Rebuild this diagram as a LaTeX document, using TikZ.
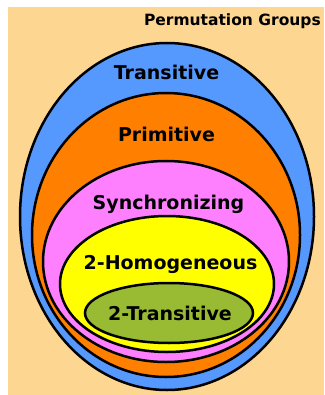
\documentclass[tikz,border=0pt]{standalone}
\usepackage{fontspec}
\setmainfont{DejaVu Sans}
\usetikzlibrary{shapes.geometric,positioning}
\definecolor{groupbg}{RGB}{253,214,146}
\definecolor{transblue}{RGB}{85,153,255}
\definecolor{primorange}{RGB}{255,128,0}
\definecolor{syncpink}{RGB}{255,128,255}
\definecolor{homyellow}{RGB}{255,255,0}
\definecolor{twogreen}{RGB}{153,187,51}

\begin{document}
\begin{tikzpicture}[x=1pt,y=-1pt,line width=2.5pt,
    set node/.style={ellipse,draw,inner sep=0pt},
    set label/.style={anchor=base,inner sep=0pt,font=\bfseries\fontsize{19}{21}\selectfont}]
            \useasboundingbox (0,0) rectangle (324,395);
            \fill [groupbg] (8,7) rectangle (324,395);

            \node [set node, fill=transblue, minimum width=294, minimum height=347](1) at (167,216.5){};
            \node [set node, fill=primorange, minimum width=268, minimum height=284](2) at (166,235){};
            \node [set node, fill=syncpink, minimum width=246, minimum height=201](3) at (166,261.5){};
            \node [set node, fill=homyellow, minimum width=214, minimum height=136](4) at (167,284){};
            \node [set node, fill=twogreen, minimum width=168, minimum height=60](5) at (169,313){};

            \node [anchor=base east, inner sep=0pt, font=\bfseries\fontsize{15.5}{17}\selectfont](0) at (322,26){Permutation Groups};
            \node [set label](t1) at (166.5,80){Transitive};
            \node [set label](t2) at (166.5,142){Primitive};
            \node [set label](t3) at (168.5,209){Synchronizing};
            \node [set label](t4) at (170.5,269){2-Homogeneous};
            \node [set label](t5) at (170,320){2-Transitive};
\end{tikzpicture}
\end{document}
